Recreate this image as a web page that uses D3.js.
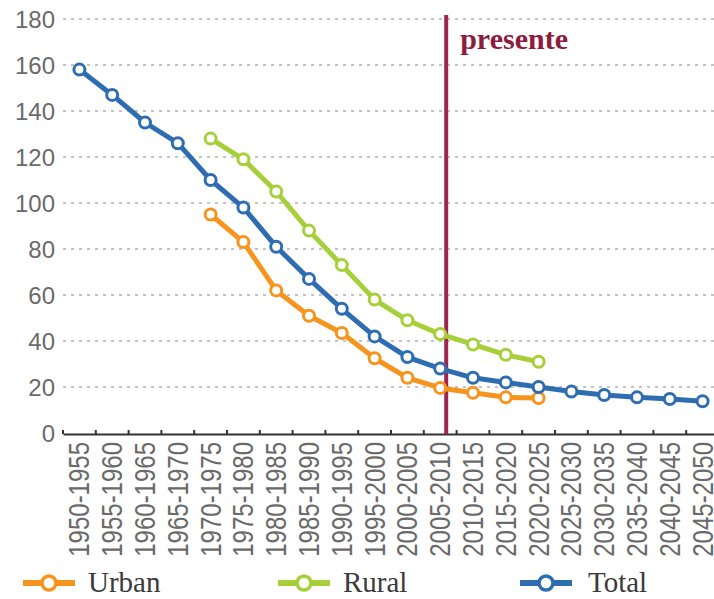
<!DOCTYPE html>
<html>
<head>
<meta charset="utf-8">
<script src="https://cdn.jsdelivr.net/npm/d3@7"></script>
<style>
  body { margin: 0; background: #fff; }
  svg { display: block; }
</style>
</head>
<body>
<svg></svg>
<script>
var periods = ["1950-1955","1955-1960","1960-1965","1965-1970","1970-1975","1975-1980",
               "1980-1985","1985-1990","1990-1995","1995-2000","2000-2005","2005-2010",
               "2010-2015","2015-2020","2020-2025","2025-2030","2030-2035","2035-2040",
               "2040-2045","2045-2050"];
var totalValues = [158,147,135,126,110,98,81,67,54,42,33,28,24,22,20,18,16.5,15.5,14.8,13.8];
var ruralPeriods = periods.slice(4, 15);
var ruralValues = [128,119,105,88,73,58,49,43,38.5,34,31];
var urbanPeriods = periods.slice(4, 15);
var urbanValues = [95,83,62,51,43.5,32.5,24,19.6,17.5,15.5,15.2];
var yTicks = [0,20,40,60,80,100,120,140,160,180];
var presentPeriod = "2005-2010";

var svgWidth = 714, svgHeight = 599;
var svg = d3.select("svg").attr("width", svgWidth).attr("height", svgHeight);

var x = d3.scaleBand().domain(periods).range([63, 719]);
var y = d3.scaleLinear().domain([0, 180]).range([433, 19]);
var cx = d => x(d) + x.bandwidth() / 2;

// grid
svg.append("g").selectAll("line")
   .data(yTicks.filter(d => d > 0))
   .enter().append("line")
   .attr("x1", 63).attr("x2", svgWidth)
   .attr("y1", d => y(d)).attr("y2", d => y(d))
   .attr("stroke", "#c4c4c4").attr("stroke-width", 2)
   .attr("stroke-dasharray", "3,5");

// y labels
svg.append("g").selectAll("text")
   .data(yTicks).enter().append("text")
   .attr("x", 55).attr("y", d => y(d))
   .attr("dy", "0.36em")
   .attr("text-anchor", "end")
   .attr("font-family", "Liberation Sans, Arial, sans-serif")
   .attr("font-size", 24)
   .attr("fill", "#6a6a6a")
   .text(d => d);

// x axis
var xAxis = svg.append("g").attr("transform", "translate(0,434)")
   .call(d3.axisTop(x).tickSize(4).tickSizeOuter(0).tickFormat(""));
xAxis.select(".domain").attr("stroke", "#333").attr("stroke-width", 2);
xAxis.selectAll(".tick line").attr("stroke", "#333").attr("stroke-width", 2)
     .attr("transform", "translate(" + (-x.bandwidth() / 2) + ",0)");

svg.append("g").selectAll("text")
   .data(periods).enter().append("text")
   .attr("transform", d => "translate(" + (cx(d) + 10) + ",442) rotate(-90) scale(1,1.2)")
   .attr("text-anchor", "end")
   .attr("font-family", "Liberation Sans, Arial, sans-serif")
   .attr("font-size", 24)
   .attr("fill", "#6a6a6a")
   .text(d => d);

// present marker
var px = cx(presentPeriod) + 6;
svg.append("line")
   .attr("x1", px).attr("x2", px).attr("y1", 15).attr("y2", 434)
   .attr("stroke", "#a3234f").attr("stroke-width", 4);
svg.append("text")
   .attr("x", px + 14).attr("y", 49)
   .attr("font-family", "Liberation Serif, Times New Roman, serif")
   .attr("font-weight", "bold")
   .attr("font-size", 30)
   .attr("fill", "#8e1c3e")
   .text("presente");

var series = [
  {name: "Urban", cats: urbanPeriods, vals: urbanValues, color: "#f7941e"},
  {name: "Rural", cats: ruralPeriods, vals: ruralValues, color: "#a6cf3a"},
  {name: "Total", cats: periods, vals: totalValues, color: "#2f6db3"}
];

var line = d3.line().x(d => cx(d[0])).y(d => y(d[1]));

series.forEach(function(s) {
  var pts = s.cats.map((c, i) => [c, s.vals[i]]);
  svg.append("path").datum(pts)
     .attr("d", line)
     .attr("fill", "none")
     .attr("stroke", s.color)
     .attr("stroke-width", 5)
     .attr("stroke-linejoin", "round");
  svg.append("g").selectAll("circle")
     .data(pts).enter().append("circle")
     .attr("cx", d => cx(d[0])).attr("cy", d => y(d[1]))
     .attr("r", 5.5)
     .attr("fill", "#fff")
     .attr("stroke", s.color)
     .attr("stroke-width", 3);
});

// legend
var legendX = [23, 278, 520];
var legend = svg.append("g").selectAll("g")
   .data(series).enter().append("g")
   .attr("transform", (d, i) => "translate(" + legendX[i] + ",583)");
legend.append("line")
   .attr("x1", 0).attr("x2", 52)
   .attr("stroke", d => d.color).attr("stroke-width", 6);
legend.append("circle")
   .attr("cx", 26).attr("r", 7)
   .attr("fill", "#fff")
   .attr("stroke", d => d.color).attr("stroke-width", 3.5);
legend.append("text")
   .attr("x", (d, i) => i === 2 ? 68 : 65).attr("y", 9)
   .attr("font-family", "Liberation Serif, Times New Roman, serif")
   .attr("font-size", 29)
   .attr("fill", "#3a3a3a")
   .text(d => d.name);
</script>
</body>
</html>
